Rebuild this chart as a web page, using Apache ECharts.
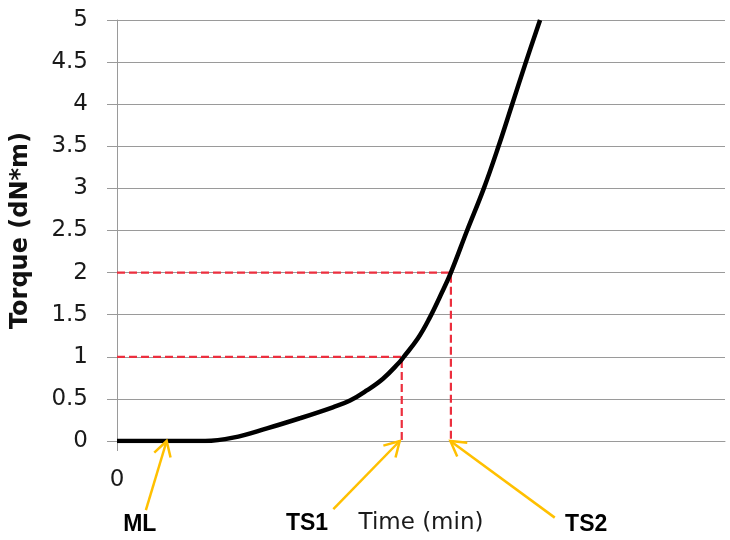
<!DOCTYPE html>
<html>
	<head>
		<meta charset="utf-8" />
		<title>torque</title>
		<script src="https://cdn.jsdelivr.net/npm/echarts@6/dist/echarts.min.js"></script>
	</head>
	<body style="margin:0;">
		<div id="main" style="width:730px;height:540px;"></div>
	</body>
	<script type="text/javascript">

	// curve : [time, torque]
	var curveTime = [0, 1.74, 2.29, 2.96, 3.61, 4.26, 4.60, 4.93, 5.25, 5.55, 5.66, 5.94, 6.16, 6.41, 6.59, 6.91, 7.24, 7.53, 7.80, 8.07, 8.35];
	var curveTorque = [0, 0, 0.04, 0.15, 0.27, 0.40, 0.48, 0.60, 0.74, 0.92, 1.0, 1.22, 1.45, 1.76, 2.0, 2.5, 3.0, 3.5, 4.0, 4.5, 5.0];

	// scorch points
	var tsTime = [5.62, 6.59];
	var tsTorque = [1, 2];

	// annotations (arrow from -> to, label position), data coords
	var arrowNames = ['ML', 'TS1', 'TS2'];
	var arrowFrom = [[0.57, -0.82], [4.27, -0.81], [8.64, -0.91]];
	var arrowTo = [[0.98, 0], [5.58, 0], [6.58, 0]];
	var labelAt = [[0.45, -0.99], [3.75, -0.98], [9.26, -0.99]];

	var yTicks = [0, 0.5, 1, 1.5, 2, 2.5, 3, 3.5, 4, 4.5, 5];
	var xTicks = [0];

	var curveData = [];
	for (var i = 0; i < curveTime.length; i++) {
		curveData.push([curveTime[i], curveTorque[i]]);
	}

	var redSeries = [];
	for (var k = 0; k < tsTime.length; k++) {
		redSeries.push({
			type: 'line',
			symbol: 'none',
			silent: true,
			z: 2,
			lineStyle: {color: '#ec2f3e', width: 2.2, type: [8, 4]},
			data: [[0, tsTorque[k]], [tsTime[k], tsTorque[k]], [tsTime[k], 0]]
		});
	}

	var myChart = echarts.init(document.getElementById('main'));
	var gray = '#9a9a9a';

	option = {
		animation: false,
		backgroundColor: '#ffffff',
		grid: {left: 117, right: 5, top: 20, bottom: 98},
		xAxis: {
			type: 'value',
			min: 0,
			max: 12,
			name: 'Time (min)',
			nameLocation: 'middle',
			nameGap: 71,
			nameTextStyle: {fontFamily: 'DejaVu Sans', fontSize: 23, color: '#1a1a1a'},
			axisLine: {show: true, lineStyle: {color: gray, width: 1}},
			axisTick: {show: true, customValues: xTicks, length: 10, lineStyle: {color: gray}},
			axisLabel: {customValues: xTicks, margin: 28, fontFamily: 'DejaVu Sans', fontSize: 23, color: '#1a1a1a'},
			splitLine: {show: false}
		},
		yAxis: {
			type: 'value',
			min: 0,
			max: 5,
			interval: 0.5,
			name: 'Torque (dN*m)',
			nameLocation: 'middle',
			nameGap: 84,
			nameTextStyle: {fontFamily: 'DejaVu Sans', fontWeight: 'bold', fontSize: 24, color: '#111'},
			axisLine: {show: true, lineStyle: {color: gray, width: 1}},
			axisTick: {show: true, length: 10, lineStyle: {color: gray}},
			axisLabel: {
				margin: 29,
				fontFamily: 'DejaVu Sans',
				fontSize: 23,
				color: '#1a1a1a',
				customValues: yTicks
			},
			splitLine: {show: true, lineStyle: {color: gray, width: 1}}
		},
		series: redSeries.concat([
			{
				type: 'line',
				symbol: 'none',
				smooth: 0.4,
				z: 3,
				lineStyle: {color: '#000', width: 4.5},
				data: curveData
			}
		])
	};
	myChart.setOption(option);

	// arrows + labels
	var gfx = [];
	var arrowColor = '#ffc000';
	for (var a = 0; a < arrowNames.length; a++) {
		var p0 = myChart.convertToPixel({gridIndex: 0}, arrowFrom[a]);
		var p1 = myChart.convertToPixel({gridIndex: 0}, arrowTo[a]);
		var dx = p0[0] - p1[0], dy = p0[1] - p1[1];
		var len = Math.sqrt(dx * dx + dy * dy);
		var ux = dx / len, uy = dy / len;
		var wing = 17, ang = Math.PI / 6;
		var c = Math.cos(ang), s = Math.sin(ang);
		var w1 = [p1[0] + wing * (ux * c - uy * s), p1[1] + wing * (ux * s + uy * c)];
		var w2 = [p1[0] + wing * (ux * c + uy * s), p1[1] + wing * (-ux * s + uy * c)];
		gfx.push({
			type: 'line',
			z: 10,
			shape: {x1: p0[0], y1: p0[1], x2: p1[0], y2: p1[1]},
			style: {stroke: arrowColor, lineWidth: 2.5}
		});
		gfx.push({
			type: 'polyline',
			z: 10,
			shape: {points: [w1, p1, w2]},
			style: {stroke: arrowColor, lineWidth: 2.5, fill: null}
		});
		var lp = myChart.convertToPixel({gridIndex: 0}, labelAt[a]);
		gfx.push({
			type: 'text',
			z: 10,
			x: lp[0],
			y: lp[1],
			style: {
				text: arrowNames[a],
				fontFamily: 'Liberation Sans',
				fontWeight: 'bold',
				fontSize: 23,
				fill: '#000',
				align: 'center',
				verticalAlign: 'middle'
			}
		});
	}
	myChart.setOption({graphic: gfx});

	</script>
</html>
